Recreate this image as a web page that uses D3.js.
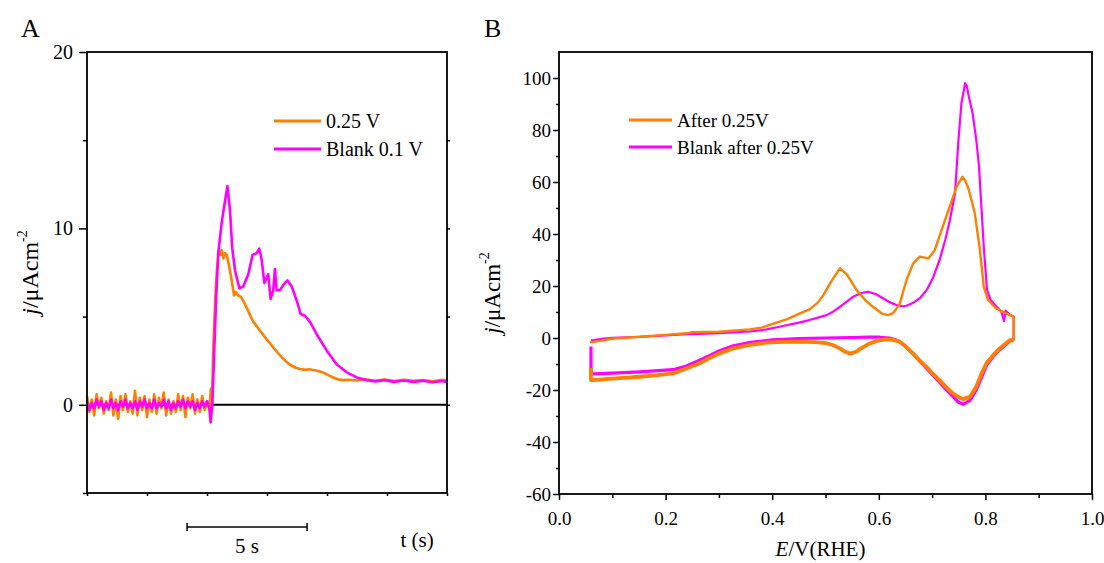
<!DOCTYPE html>
<html>
<head>
<meta charset="utf-8">
<script src="https://cdn.jsdelivr.net/npm/d3@7"></script>
<style>
  html, body { margin: 0; padding: 0; background: #fff; }
  svg text { font-family: "Liberation Serif", "Times New Roman", serif; fill: #000; }
</style>
</head>
<body>
<div id="chart"></div>
<script>
// ---- panel A: transient current (t in s, j in µA cm^-2)
const legendA = ['0.25 V', 'Blank 0.1 V'];
const orangeA = [
  [0.0,0.5],[0.1,-0.4],[0.2,0.3],[0.3,-0.6],[0.4,0.6],[0.5,-0.2],[0.6,0.4],[0.7,-0.5],[0.8,0.2],[0.9,-0.3],
  [1.0,0.7],[1.1,-0.6],[1.2,0.3],[1.3,-0.8],[1.4,0.5],[1.5,-0.3],[1.6,0.6],[1.7,-0.4],[1.8,0.2],[1.9,-0.5],
  [2.0,0.8],[2.1,-0.6],[2.2,0.4],[2.3,-0.3],[2.4,0.5],[2.5,-0.7],[2.6,0.3],[2.7,-0.4],[2.8,0.6],[2.9,-0.5],
  [3.0,0.4],[3.1,-0.2],[3.2,0.7],[3.3,-0.6],[3.4,0.3],[3.5,-0.5],[3.6,0.2],[3.7,-0.4],[3.8,0.6],[3.9,-0.3],
  [4.0,0.5],[4.1,-0.7],[4.2,0.4],[4.3,-0.2],[4.4,0.6],[4.5,-0.5],[4.6,0.3],[4.7,-0.4],[4.8,0.5],[4.9,-0.3],
  [5.0,0.2],[5.1,-0.3],[5.16,0.9],[5.2,-0.2],[5.27,3.5],[5.36,6.5],[5.41,7.6],[5.5,8.8],[5.57,8.5],[5.62,8.75],
  [5.68,8.3],[5.75,8.6],[5.82,8.5],[5.93,7.8],[6.03,7.05],[6.13,6.2],[6.2,6.4],[6.3,6.2],[6.42,6.1],[6.51,5.9],
  [6.62,5.6],[6.72,5.3],[6.82,5.0],[6.93,4.7],[7.05,4.5],[7.21,4.2],[7.35,3.95],[7.49,3.7],[7.62,3.5],[7.76,3.25],
  [7.95,2.95],[8.11,2.7],[8.3,2.45],[8.46,2.27],[8.7,2.1],[8.88,2.03],[9.1,1.98],[9.25,2.02],[9.43,1.97],[9.6,1.93],
  [9.85,1.82],[10.05,1.68],[10.26,1.55],[10.45,1.45],[10.68,1.4],[10.9,1.42],[11.24,1.38],[11.6,1.45],[12.0,1.36],[12.4,1.43],
  [12.8,1.35],[13.2,1.42],[13.6,1.36],[14.0,1.4],[14.4,1.33],[14.8,1.42],[15.0,1.38]
];
const magentaA = [
  [0.0,0.2],[0.1,-0.3],[0.2,0.1],[0.3,-0.2],[0.4,0.3],[0.5,-0.1],[0.6,0.2],[0.7,-0.3],[0.8,0.1],[0.9,-0.2],
  [1.0,0.3],[1.1,-0.2],[1.2,0.1],[1.3,-0.3],[1.4,0.2],[1.5,-0.1],[1.6,0.3],[1.7,-0.2],[1.8,0.1],[1.9,-0.2],
  [2.0,0.2],[2.1,-0.3],[2.2,0.2],[2.3,-0.1],[2.4,0.3],[2.5,-0.2],[2.6,0.1],[2.7,-0.2],[2.8,0.3],[2.9,-0.2],
  [3.0,0.1],[3.1,-0.1],[3.2,0.3],[3.3,-0.2],[3.4,0.2],[3.5,-0.3],[3.6,0.1],[3.7,-0.2],[3.8,0.2],[3.9,-0.1],
  [4.0,0.3],[4.1,-0.2],[4.2,0.2],[4.3,-0.1],[4.4,0.2],[4.5,-0.3],[4.6,0.1],[4.7,-0.2],[4.8,0.2],[4.9,-0.1],
  [5.0,0.2],[5.1,-0.2],[5.15,-1.0],[5.22,0.0],[5.3,3.0],[5.38,6.0],[5.47,8.6],[5.61,10.3],[5.71,11.2],[5.85,12.4],
  [5.96,11.0],[6.05,8.9],[6.17,7.6],[6.35,6.6],[6.51,6.7],[6.72,7.4],[6.9,8.5],[7.07,8.6],[7.18,8.85],[7.28,8.2],
  [7.39,6.9],[7.55,7.4],[7.65,6.0],[7.76,6.5],[7.83,7.7],[7.9,6.5],[8.04,6.5],[8.18,6.8],[8.35,7.05],[8.53,6.7],
  [8.74,5.9],[8.9,5.15],[9.08,5.05],[9.29,4.7],[9.57,4.0],[9.99,3.07],[10.4,2.3],[10.82,1.84],[11.24,1.55],[11.65,1.4],
  [12.0,1.33],[12.4,1.4],[12.8,1.3],[13.2,1.38],[13.6,1.3],[14.0,1.36],[14.4,1.28],[14.8,1.35],[15.0,1.3]
];
const yTicksA = [20, 10, 0];
const yMinorA = [15, 5, -5];
const xTicksA = [0, 2.5, 5, 7.5, 10, 12.5, 15];
const scaleBarA = [4.17, 5];          // start (s), length (s)

// ---- panel B: cyclic voltammograms (E in V vs RHE, j in µA cm^-2)
const legendB = ['After 0.25V', 'Blank after 0.25V'];
const orangeAnodic = [
  [0.058,-1.7],[0.08,-1.0],[0.1,-0.3],[0.152,0.5],[0.2,1.2],[0.24,1.8],[0.25,2.2],[0.3,2.4],[0.358,3.3],
  [0.38,4.0],[0.408,5.9],[0.427,7.2],[0.45,9.3],[0.47,11.0],[0.485,13.5],[0.496,16.5],[0.51,21.5],[0.527,26.8],[0.54,24.5],
  [0.558,18.5],[0.575,14.5],[0.589,12.0],[0.605,9.5],[0.617,8.8],[0.627,9.6],[0.639,13],[0.652,22.3],[0.664,28.5],[0.677,31.3],
  [0.693,30.6],[0.705,33.8],[0.72,42.8],[0.733,50.5],[0.746,58.2],[0.757,62],[0.762,60.5],[0.767,58.2],[0.774,53],[0.78,48],
  [0.789,35],[0.797,19.7],[0.805,14.6],[0.82,11.4],[0.839,9.5],[0.853,8.2],[0.853,-1.0]
];
const orangeCathodic = [
  [0.853,-1.0],[0.846,-0.8],[0.827,-4],[0.815,-6.5],[0.802,-9.7],[0.792,-14],[0.783,-18.7],[0.771,-22.6],[0.758,-23.5],[0.748,-22.5],
  [0.739,-21.3],[0.726,-18.8],[0.714,-16.2],[0.7,-13.5],[0.689,-11],[0.675,-8.3],[0.664,-5.9],[0.65,-3.2],[0.639,-1.4],[0.625,-0.6],
  [0.614,-0.5],[0.598,-1.0],[0.583,-2.1],[0.568,-3.8],[0.558,-5.2],[0.547,-6.0],[0.537,-5.3],[0.527,-4],[0.515,-2.8],[0.502,-2],
  [0.48,-1.6],[0.452,-1.4],[0.42,-1.5],[0.389,-1.8],[0.36,-2.6],[0.327,-4],[0.3,-6],[0.28,-8],[0.264,-9.7],[0.239,-11.7],
  [0.214,-13.6],[0.18,-14.4],[0.152,-14.9],[0.1,-15.6],[0.064,-16.2],[0.06,-16.2],[0.06,-11.5]
];
const magentaAnodic = [
  [0.06,-1.0],[0.08,-0.3],[0.1,0.1],[0.152,0.4],[0.2,1.0],[0.24,1.5],[0.264,1.6],[0.3,1.9],[0.358,2.5],
  [0.39,3.3],[0.42,4.6],[0.45,5.9],[0.47,6.9],[0.502,8.8],[0.515,10.2],[0.527,12],[0.54,14],[0.552,15.9],[0.566,17.2],
  [0.58,17.8],[0.594,16.9],[0.608,15.3],[0.62,13.8],[0.633,12.7],[0.645,12.2],[0.652,12.4],[0.665,13.6],[0.677,15.3],[0.69,18.5],
  [0.702,23.3],[0.714,30],[0.725,38],[0.733,45],[0.743,55.6],[0.749,74.9],[0.755,90.3],[0.762,98],[0.765,97],[0.769,92.8],
  [0.776,86.4],[0.783,76],[0.788,66],[0.791,55.6],[0.797,35],[0.803,18.5],[0.81,14.6],[0.82,12.2],[0.83,10.1],[0.835,6.5],
  [0.838,10.5],[0.845,9.0],[0.853,8.2],[0.853,-0.5]
];
const magentaCathodic = [
  [0.853,-0.5],[0.846,-1.2],[0.827,-4.5],[0.815,-7],[0.802,-10.5],[0.792,-15.5],[0.783,-20],[0.771,-24],[0.758,-25.5],[0.748,-24.5],
  [0.739,-22.5],[0.726,-19.8],[0.714,-17],[0.7,-14],[0.689,-11.5],[0.675,-8.5],[0.664,-6],[0.65,-3.2],[0.639,-1.5],[0.633,-0.8],
  [0.62,0.0],[0.602,0.3],[0.58,0.3],[0.55,0.2],[0.5,0.0],[0.45,-0.2],[0.4,-0.7],[0.36,-1.7],[0.327,-3],[0.3,-5],
  [0.28,-7],[0.264,-8.5],[0.239,-10.8],[0.214,-12.2],[0.152,-13],[0.1,-13.5],[0.064,-13.8],[0.06,-13.8],[0.06,-3.3]
];
const xTicksB = [0, 0.2, 0.4, 0.6, 0.8, 1.0];
const xMinorB = [0.1, 0.3, 0.5, 0.7, 0.9];
const yTicksB = [-60, -40, -20, 0, 20, 40, 60, 80, 100];
const yMinorB = [-50, -30, -10, 10, 30, 50, 70, 90];

const ORANGE = '#ff8000';
const MAGENTA = '#ff00ff';

const W = 1104, H = 563;
const svg = d3.select('#chart').append('svg')
  .attr('width', W).attr('height', H)
  .style('background', '#fff');

function styleAxis(g, fontSize) {
  g.select('.domain').remove();
  g.selectAll('line').attr('stroke', '#000').attr('stroke-width', 1.5);
  g.selectAll('text').attr('font-size', fontSize).attr('fill', '#000')
    .style('font-family', '"Liberation Serif", "Times New Roman", serif');
}

// ================= Panel A =================
const A = { left: 87, right: 447, top: 52, bottom: 493 };
const xA = d3.scaleLinear().domain([0, 15]).range([A.left, A.right]);
const yA = d3.scaleLinear().domain([-5, 20]).range([A.bottom, A.top]);
const gA = svg.append('g');

gA.append('g').attr('transform', `translate(${A.left},0)`)
  .call(d3.axisLeft(yA).tickValues(yTicksA).tickSize(8).tickPadding(6).tickFormat(d3.format('d')))
  .call(g => styleAxis(g, 20));
gA.append('g').attr('transform', `translate(${A.left},0)`)
  .call(d3.axisLeft(yA).tickValues(yMinorA).tickSize(4).tickFormat(''))
  .call(g => styleAxis(g, 20));
gA.append('g').attr('transform', `translate(${A.right},0)`)
  .call(d3.axisRight(yA).tickValues(yMinorA.concat(yTicksA).filter(v => v > -5 && v < 20)).tickSize(3).tickFormat(''))
  .call(g => styleAxis(g, 20));
gA.append('g').attr('transform', `translate(0,${A.bottom})`)
  .call(d3.axisBottom(xA).tickValues(xTicksA).tickSize(3).tickFormat(''))
  .call(g => styleAxis(g, 20));

// zero line
gA.append('line')
  .attr('x1', xA(0)).attr('x2', xA(15)).attr('y1', yA(0)).attr('y2', yA(0))
  .attr('stroke', '#000').attr('stroke-width', 2);

const lineA = d3.line().x(d => xA(d[0])).y(d => yA(d[1]));
gA.append('path').datum(orangeA).attr('d', lineA)
  .attr('fill', 'none').attr('stroke', ORANGE).attr('stroke-width', 2.6).attr('stroke-linejoin', 'round');
gA.append('path').datum(magentaA).attr('d', lineA)
  .attr('fill', 'none').attr('stroke', MAGENTA).attr('stroke-width', 2.6).attr('stroke-linejoin', 'round');

gA.append('rect')
  .attr('x', A.left).attr('y', A.top).attr('width', A.right - A.left).attr('height', A.bottom - A.top)
  .attr('fill', 'none').attr('stroke', '#000').attr('stroke-width', 1.8);

// legend A
[ORANGE, MAGENTA].forEach((c, i) => {
  const y = 121 + i * 28;
  gA.append('line').attr('x1', 274).attr('x2', 321).attr('y1', y).attr('y2', y)
    .attr('stroke', c).attr('stroke-width', 3);
  gA.append('text').attr('x', 326).attr('y', y).attr('dy', '0.35em')
    .attr('font-size', 20).text(legendA[i]);
});

// scale bar
const sbY = 527;
const sb0 = xA(scaleBarA[0]), sb1 = xA(scaleBarA[0] + scaleBarA[1]);
gA.append('line').attr('x1', sb0).attr('x2', sb1).attr('y1', sbY).attr('y2', sbY)
  .attr('stroke', '#000').attr('stroke-width', 1.5);
[sb0, sb1].forEach(x => gA.append('line').attr('x1', x).attr('x2', x)
  .attr('y1', sbY - 4).attr('y2', sbY + 4).attr('stroke', '#000').attr('stroke-width', 1.5));
gA.append('text').attr('x', (sb0 + sb1) / 2).attr('y', 553)
  .attr('text-anchor', 'middle').attr('font-size', 21).text('5 s');
gA.append('text').attr('x', 417).attr('y', 547)
  .attr('text-anchor', 'middle').attr('font-size', 21).text('t (s)');

// y label A
const ylA = gA.append('text')
  .attr('transform', `translate(38,${(A.top + A.bottom) / 2}) rotate(-90)`)
  .attr('text-anchor', 'middle').attr('font-size', 24);
ylA.append('tspan').attr('font-style', 'italic').text('j');
ylA.append('tspan').text('/μAcm');
ylA.append('tspan').attr('font-size', 14).attr('dy', -11).text('-2');

gA.append('text').attr('x', 21).attr('y', 37).attr('font-size', 26).text('A');

// ================= Panel B =================
const B = { left: 559, right: 1092, top: 52, bottom: 494 };
const xB = d3.scaleLinear().domain([0, 1]).range([B.left, B.right]);
const yB = d3.scaleLinear().domain([-60, 110]).range([B.bottom, B.top]);
const gB = svg.append('g');

gB.append('g').attr('transform', `translate(${B.left},0)`)
  .call(d3.axisLeft(yB).tickValues(yTicksB).tickSize(6).tickPadding(2).tickFormat(d => String(d)))
  .call(g => styleAxis(g, 19));
gB.append('g').attr('transform', `translate(${B.left},0)`)
  .call(d3.axisLeft(yB).tickValues(yMinorB).tickSize(3).tickFormat(''))
  .call(g => styleAxis(g, 19));
gB.append('g').attr('transform', `translate(0,${B.bottom})`)
  .call(d3.axisBottom(xB).tickValues(xTicksB).tickSize(6).tickPadding(12).tickFormat(d3.format('.1f')))
  .call(g => styleAxis(g, 19));
gB.append('g').attr('transform', `translate(0,${B.bottom})`)
  .call(d3.axisBottom(xB).tickValues(xMinorB).tickSize(4).tickFormat(''))
  .call(g => styleAxis(g, 19));

const lineB = d3.line().x(d => xB(d[0])).y(d => yB(d[1]));
const curvesB = [
  { data: magentaCathodic, color: MAGENTA, w: 3.2 },
  { data: magentaAnodic, color: MAGENTA, w: 2.2 },
  { data: orangeCathodic, color: ORANGE, w: 3.8 },
  { data: orangeAnodic, color: ORANGE, w: 2.4 }
];
curvesB.forEach(c => {
  gB.append('path').datum(c.data).attr('d', lineB)
    .attr('fill', 'none').attr('stroke', c.color).attr('stroke-width', c.w)
    .attr('stroke-linejoin', 'round');
});

gB.append('rect')
  .attr('x', B.left).attr('y', B.top).attr('width', B.right - B.left).attr('height', B.bottom - B.top)
  .attr('fill', 'none').attr('stroke', '#000').attr('stroke-width', 1.8);

// legend B
[ORANGE, MAGENTA].forEach((c, i) => {
  const y = 120 + i * 27;
  gB.append('line').attr('x1', 629).attr('x2', 672).attr('y1', y).attr('y2', y)
    .attr('stroke', c).attr('stroke-width', 3);
  gB.append('text').attr('x', 677).attr('y', y).attr('dy', '0.35em')
    .attr('font-size', 19).text(legendB[i]);
});

// axis titles B
const xlB = gB.append('text').attr('x', (B.left + B.right) / 2 - 5).attr('y', 556)
  .attr('text-anchor', 'middle').attr('font-size', 21);
xlB.append('tspan').attr('font-style', 'italic').text('E');
xlB.append('tspan').text('/V(RHE)');

const ylB = gB.append('text')
  .attr('transform', 'translate(500,293) rotate(-90)')
  .attr('text-anchor', 'middle').attr('font-size', 23);
ylB.append('tspan').attr('font-style', 'italic').text('j');
ylB.append('tspan').text('/μAcm');
ylB.append('tspan').attr('font-size', 14).attr('dy', -11).text('-2');

gB.append('text').attr('x', 484).attr('y', 37).attr('font-size', 26).text('B');
</script>
</body>
</html>
